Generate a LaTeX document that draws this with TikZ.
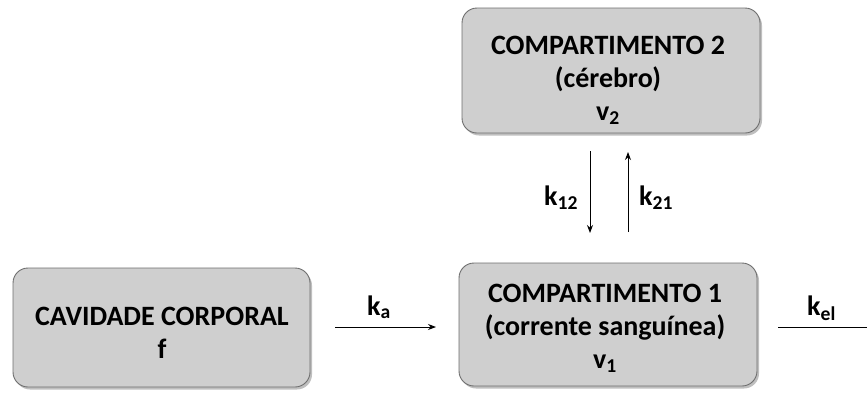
\documentclass[tikz,border=0pt]{standalone}
\usepackage{fontspec}
\setmainfont{Carlito}
\usetikzlibrary{shadows,arrows.meta}
\definecolor{boxfill}{HTML}{CFCFCF}
\definecolor{boxline}{HTML}{6E6E6E}
\begin{document}
\begin{tikzpicture}[x=1pt,y=-1pt,
  box/.style={draw=boxline, line width=0.9pt, fill=boxfill, rounded corners=15pt,
    drop shadow={shadow xshift=2pt, shadow yshift=-2.5pt, opacity=0.5}},
  lbl/.style={font=\bfseries\fontsize{28}{33}\selectfont, align=center, inner sep=0pt},
  klbl/.style={font=\bfseries\fontsize{28}{33}\selectfont, inner sep=0pt, anchor=base west},
  arr/.style={-{Stealth[length=8pt,width=6pt]}, line width=0.9pt}]
\useasboundingbox (0,0) rectangle (867,392);
\draw[box] (462,8) rectangle (760,133);
\draw[box] (13,268) rectangle (310,387);
\draw[box] (459,263) rectangle (757,386);
\node[lbl] (c2) at (608,80) {COMPARTIMENTO 2\\(cérebro)\\v\textsubscript{2}};
\node[lbl] (cav) at (162,333) {CAVIDADE CORPORAL\\f};
\node[lbl] (c1) at (605,328) {COMPARTIMENTO 1\\(corrente sanguínea)\\v\textsubscript{1}};
\coordinate (a1) at (590,151); \coordinate (a2) at (590,233);
\coordinate (b1) at (628,232); \coordinate (b2) at (628,152);
\coordinate (ka1) at (335,327); \coordinate (ka2) at (436,327);
\coordinate (ke1) at (778,327); \coordinate (ke2) at (867,327);
\draw[arr] (a1) -- (a2);
\draw[arr] (b1) -- (b2);
\draw[arr] (ka1) -- (ka2);
\draw[line width=0.9pt] (ke1) -- (ke2);
\node[klbl] (k12) at (544,205) {k\textsubscript{12}};
\node[klbl] (k21) at (639,205) {k\textsubscript{21}};
\node[klbl] (ka) at (367,315) {k\textsubscript{a}};
\node[klbl] (kel) at (807,315) {k\textsubscript{el}};
\end{tikzpicture}
\end{document}
